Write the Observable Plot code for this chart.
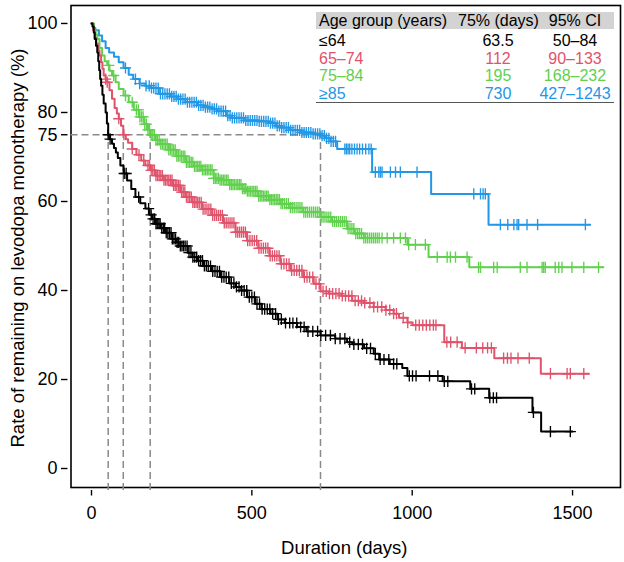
<!DOCTYPE html>
<html><head><meta charset="utf-8">
<script src="https://cdn.jsdelivr.net/npm/d3@7"></script>
<script src="https://cdn.jsdelivr.net/npm/@observablehq/plot@0.6"></script>
<style>
body{margin:0;background:#fff;font-family:"Liberation Sans",Arial,sans-serif;}
#wrap{position:relative;width:624px;height:562px;}
#tbl{position:absolute;left:316px;top:12px;width:298px;font-size:16px;color:#000;}
#tbl .hdr{position:relative;height:17px;line-height:17px;background:#d3d3d3;}
#tbl .rows{position:absolute;top:20px;left:0;width:298px;border-bottom:1px solid #555;}
#tbl .row{position:relative;height:17.6px;line-height:17.6px;}
#tbl .c1{position:absolute;left:3px;white-space:nowrap;}
#tbl .c2{position:absolute;left:142px;width:80px;text-align:center;white-space:nowrap;}
#tbl .c3{position:absolute;left:214px;width:90px;text-align:center;white-space:nowrap;}
</style></head>
<body><div id="wrap"></div>
<script>
// ---- data ----
const groups = ["≤64", "65–74", "75–84", "≥85"];
const colors = ["#000000", "#DF536B", "#61D04F", "#2297E6"];
const q75 = ["63.5", "112", "195", "730"];
const ci95 = ["50–84", "90–133", "168–232", "427–1243"];
const headers = ["Age group (years)", "75% (days)", "95% CI"];
const yTicks = [0, 20, 40, 60, 75, 80, 100];
const xTicks = [0, 500, 1000, 1500];
const medianLines = [52, 99, 183, 714];   // where the dashed lines drop from 75%

// Kaplan–Meier knots [day, % remaining]
const kmAge64 = [[0,100],[3,99.3],[7,98],[10,96.5],[14,95],[18,93.5],[21,91.5],[24,89.5],[27,87.5],[30,86],[34,84],[38,82],[44,80],[48,77.5],[52,75],[58,74],[64,73],[70,72],[76,71],[82,69.8],[90,68.1],[100,66.3],[111,64.7],[124,62.8],[137,61],[152,59.6],[168,58.4],[180,57],[189,56.1],[200,55],[215,54],[231,53],[250,51.6],[265,50.8],[277,50],[300,48.5],[315,47.5],[329,46.7],[350,45.5],[375,44.3],[402,43],[430,41.6],[450,40.8],[467,40],[485,38.5],[510,37],[530,35.8],[558,34.8],[580,33.5],[603,32.7],[641,31.8],[670,30.8],[714,29.9],[760,29.2],[797,28.4],[813,27.9],[850,27],[880,25.8],[897,24.5],[930,23.5],[969,22.6],[985,20.8],[1095,19.6],[1181,17.9],[1240,15.9],[1375,12.6],[1402,8.3],[1500,8.3]];
const kmAge65 = [[0,100],[5,98.5],[10,96.8],[15,95.5],[20,94],[25,92.8],[30,91.3],[34,89.8],[38,88.3],[44,87.5],[49,86.8],[56,85],[64,83.1],[72,81],[79,79.8],[85,78.6],[92,77],[99,75],[107,74],[114,73.2],[127,71.8],[140,70.5],[155,69.2],[168,68.1],[185,67],[200,65.8],[225,64.8],[252,63.6],[277,62.1],[295,61],[314,59.8],[345,58.3],[376,56.9],[410,55.2],[449,53.1],[485,51.2],[520,49.5],[555,47.8],[589,46],[620,44.5],[660,43],[693,41.5],[714,39.8],[740,39.3],[780,38.8],[813,37.7],[849,37.2],[880,36.3],[917,35.6],[942,34.8],[959,33.9],[985,32.8],[1001,32.2],[1100,28.4],[1155,27.1],[1256,24.8],[1401,21.3],[1551,21.3]];
const kmAge75 = [[0,100],[8,98.5],[13,97.5],[18,96.5],[25,94.5],[33,92.8],[41,91.5],[49,90.6],[56,89.4],[64,88.3],[75,86.8],[85,85.3],[100,83.8],[116,82.3],[132,80.6],[148,79],[164,77.4],[176,76.1],[183,75],[200,73.8],[215,72.9],[241,71.6],[265,70.2],[293,68.8],[320,67.9],[345,67.1],[381,65.2],[397,64.8],[430,63.8],[470,62.9],[485,62.3],[520,61.2],[555,60.4],[589,59.5],[620,58.6],[660,57.6],[714,56.5],[750,55.5],[797,53.9],[820,52.8],[849,51.8],[985,50.3],[1051,47.5],[1178,45.2],[1596,45.2]];
const kmAge85 = [[0,100],[5,99],[12,98.5],[23,97.3],[33,96],[44,94.5],[55,93.5],[70,92.5],[85,91.3],[100,90],[116,88.5],[130,87.5],[150,86.5],[168,86],[184,85.5],[210,84.2],[246,83.6],[270,83],[293,82.3],[329,81.6],[350,81.2],[376,80.8],[392,80.3],[420,79.3],[438,78.8],[475,78.2],[520,78],[558,77.6],[575,77],[589,76.6],[620,76],[650,75.5],[690,75.2],[714,74.8],[730,74.2],[745,73.5],[766,71.8],[875,66.6],[1059,61.7],[1238,54.8],[1555,54.8]];

// censoring times (days)
const censAge64 = [52,58,102,108,147,178,186,192,197,201,205,210,214,219,224,228,233,238,243,248,252,257,262,267,272,277,282,287,292,298,304,310,316,322,328,334,340,346,352,358,364,371,378,385,392,399,406,413,420,428,436,444,452,460,468,476,484,492,500,508,516,524,532,540,548,556,565,574,583,592,605,618,628,640,652,663,675,690,705,715,730,745,760,775,790,805,818,832,845,858,870,885,900,912,927,942,952,991,1001,1012,1054,1080,1100,1111,1185,1195,1242,1253,1263,1378,1431,1493];
const censAge65 = [44,49,85,101,127,148,163,176,181,186,191,196,201,206,211,216,221,226,231,236,241,246,251,256,261,266,271,276,281,286,291,296,301,306,311,316,321,326,331,336,342,348,354,360,366,372,378,384,390,396,402,408,414,420,426,432,438,444,450,456,462,468,474,480,487,494,501,508,515,522,529,536,543,550,557,564,571,578,585,592,600,608,616,624,632,640,648,656,664,672,680,690,700,710,722,732,742,752,762,772,782,792,802,812,822,832,842,852,868,880,892,905,918,930,942,951,972,986,1011,1022,1033,1044,1055,1066,1074,1108,1120,1140,1165,1200,1220,1235,1247,1285,1297,1308,1330,1365,1431,1483,1493,1535];
const censAge75 = [54,69,106,127,140,146,151,156,161,166,171,176,181,186,191,196,201,206,211,216,221,226,231,236,241,246,251,256,261,266,271,276,281,286,291,296,301,306,311,316,321,326,331,336,341,346,351,356,361,366,371,376,381,386,391,396,401,406,411,416,421,426,431,436,441,446,451,456,461,466,471,476,481,486,491,496,501,506,511,516,521,526,531,536,541,546,551,556,561,566,571,576,581,586,591,596,602,608,614,620,626,632,638,644,650,656,662,668,674,680,686,692,698,704,710,716,722,728,734,740,746,752,758,764,770,776,782,788,794,800,806,812,818,824,830,836,842,849,855,861,867,873,879,885,891,897,906,922,942,963,979,989,1010,1041,1078,1109,1119,1135,1171,1207,1213,1254,1265,1337,1358,1405,1410,1415,1446,1457,1467,1498,1535,1581];
const censAge85 = [106,137,150,170,180,187,194,201,208,215,222,229,236,243,250,257,264,271,278,285,292,299,306,313,320,327,334,341,348,355,362,369,376,383,390,397,404,411,418,425,432,439,446,453,460,467,474,481,488,495,502,509,516,523,530,537,544,551,558,565,572,579,586,593,600,607,614,621,628,635,642,649,656,663,670,677,684,691,698,705,712,719,726,733,740,747,754,761,790,795,800,805,812,820,828,836,845,855,865,872,885,896,901,906,932,948,963,1015,1192,1213,1221,1228,1275,1298,1317,1327,1332,1358,1391,1540];

const kms = [kmAge64, kmAge65, kmAge75, kmAge85];
const cens = [censAge64, censAge65, censAge75, censAge85];

// ---- build ----
function survAt(knots, t) {
  let s = knots[0][1];
  for (const [kt, ks] of knots) if (kt <= t) s = ks;
  return s;
}
const plusSymbol = {
  draw(ctx, size) {
    const r = Math.sqrt(size / Math.PI);
    ctx.moveTo(-r, 0); ctx.lineTo(r, 0);
    ctx.moveTo(0, -r); ctx.lineTo(0, r);
  }
};

const xDomain = [-73.3, 1649.5];
const yDomain = [-4.94, 104.04];
const font = "Liberation Sans, Arial, sans-serif";

const marks = [
  Plot.frame({stroke: "#000", strokeWidth: 1.6, insetLeft: 3, insetBottom: 3}),
  Plot.axisY({ticks: yTicks, tickSize: 6.5, tickPadding: 4, fontSize: 18, label: null, strokeWidth: 1.4}),
  Plot.axisX({ticks: xTicks, tickFormat: d => String(d), tickSize: 5.5, tickPadding: 10, fontSize: 18, label: null, strokeWidth: 1.4}),
  Plot.ruleY([75], {x1: xDomain[0], x2: medianLines[3], insetLeft: 3, stroke: "#8a8a8a", strokeWidth: 1.5, strokeDasharray: "7,4"}),
  Plot.ruleX(medianLines, {y1: yDomain[0], y2: 75, insetBottom: 3, stroke: "#8a8a8a", strokeWidth: 1.5, strokeDasharray: "7,4"}),
];
for (let i = kms.length - 1; i >= 0; i--) {
  marks.push(Plot.line(kms[i], {x: d => d[0], y: d => d[1], curve: "step-after", stroke: colors[i], strokeWidth: 2}));
  const cd = cens[i].map(t => ({t, s: survAt(kms[i], t)}));
  marks.push(Plot.dot(cd, {x: "t", y: "s", symbol: plusSymbol, r: 5.6, stroke: colors[i], fill: "none", strokeWidth: 1.35}));
}
marks.push(Plot.text(["Rate of remaining on levodopa monotherapy (%)"], {text: d => d, frameAnchor: "left", rotate: -90, dx: -50, textAnchor: "middle", lineAnchor: "middle", fontSize: 18.5}));
marks.push(Plot.text(["Duration (days)"], {text: d => d, frameAnchor: "bottom", dy: 58, textAnchor: "middle", lineAnchor: "middle", fontSize: 18.5}));

const chart = Plot.plot({
  width: 624, height: 562,
  marginLeft: 67.5, marginRight: 4, marginTop: 5, marginBottom: 72,
  x: {domain: xDomain},
  y: {domain: yDomain},
  style: {fontFamily: font, fontSize: "18px", color: "#000", background: "#fff"},
  marks
});
const wrap = document.getElementById("wrap");
wrap.appendChild(chart);

// legend table overlay
const tbl = document.createElement("div");
tbl.id = "tbl";
let html = `<div class="hdr"><span class="c1">${headers[0]}</span><span class="c2">${headers[1]}</span><span class="c3">${headers[2]}</span></div><div class="rows">`;
groups.forEach((g, i) => {
  html += `<div class="row" style="color:${colors[i]}"><span class="c1">${g}</span><span class="c2">${q75[i]}</span><span class="c3">${ci95[i]}</span></div>`;
});
html += `</div>`;
tbl.innerHTML = html;
wrap.appendChild(tbl);
</script>
</body></html>
